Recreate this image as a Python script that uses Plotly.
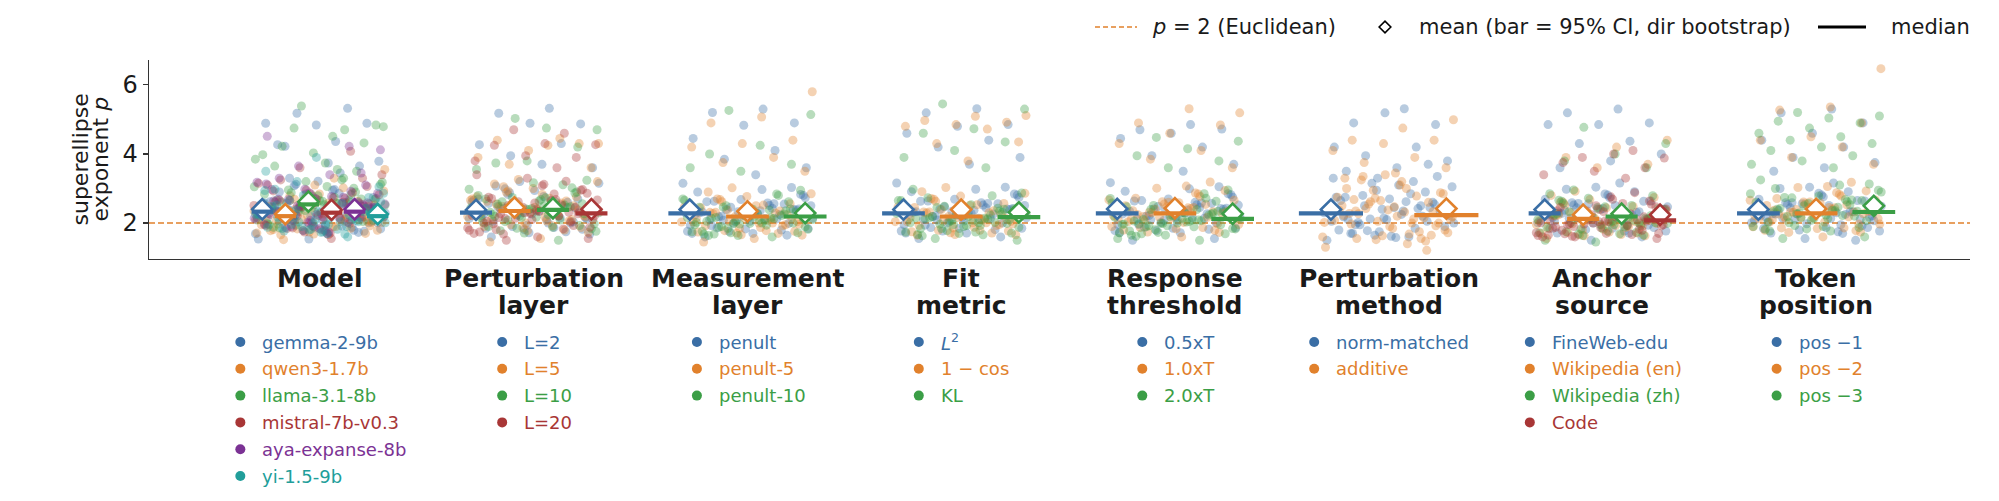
import plotly.graph_objects as go

# ---------------- layout constants (pixels of the 1999x501 canvas) ----------------
W, H = 1999, 501
PL, PR, PT, PB = 149, 1970, 60, 259
XR = [-0.8, 7.72]
YR = [0.96, 6.72]
FONT = "DejaVu Sans"

BLUE, ORANGE, GREEN, RED, PURPLE, TEAL = "#3a6ea5", "#e1812c", "#3b9e46", "#a83636", "#7b3294", "#219e9a"
PALETTE = [BLUE, ORANGE, GREEN, RED, PURPLE, TEAL]

# ---------------- data ----------------
GROUP_TITLES = [["Model"], ["Perturbation", "layer"], ["Measurement", "layer"], ["Fit", "metric"],
                ["Response", "threshold"], ["Perturbation", "method"], ["Anchor", "source"], ["Token", "position"]]

MODEL_LEVELS = ["gemma-2-9b", "qwen3-1.7b", "llama-3.1-8b", "mistral-7b-v0.3", "aya-expanse-8b", "yi-1.5-9b"]
PLAYER_LEVELS = ["L=2", "L=5", "L=10", "L=20"]
MLAYER_LEVELS = ["penult", "penult-5", "penult-10"]
METRIC_LEVELS = ["<i>L</i><sup>2</sup>", "1 − cos", "KL"]
THRESH_LEVELS = ["0.5xT", "1.0xT", "2.0xT"]
METHOD_LEVELS = ["norm-matched", "additive"]
ANCHOR_LEVELS = ["FineWeb-edu", "Wikipedia (en)", "Wikipedia (zh)", "Code"]
TOKEN_LEVELS = ["pos −1", "pos −2", "pos −3"]

MODEL_MEAN = [2.40, 2.26, 2.62, 2.38, 2.40, 2.26]
MODEL_MEDIAN = [2.33, 2.20, 2.54, 2.30, 2.33, 2.20]
MODEL_CI = [0.08, 0.07, 0.10, 0.08, 0.08, 0.07]
PLAYER_MEAN = [2.38, 2.45, 2.43, 2.40]
PLAYER_MEDIAN = [2.30, 2.35, 2.38, 2.28]
PLAYER_CI = [0.08, 0.08, 0.08, 0.08]
MLAYER_MEAN = [2.39, 2.34, 2.29]
MLAYER_MEDIAN = [2.28, 2.19, 2.19]
MLAYER_CI = [0.07, 0.07, 0.07]
METRIC_MEAN = [2.39, 2.39, 2.31]
METRIC_MEDIAN = [2.28, 2.19, 2.17]
METRIC_CI = [0.07, 0.07, 0.07]
THRESH_MEAN = [2.41, 2.43, 2.27]
THRESH_MEDIAN = [2.28, 2.28, 2.12]
THRESH_CI = [0.07, 0.07, 0.07]
METHOD_MEAN = [2.39, 2.42]
METHOD_MEDIAN = [2.28, 2.23]
METHOD_CI = [0.07, 0.07]
ANCHOR_MEAN = [2.39, 2.24, 2.27, 2.24]
ANCHOR_MEDIAN = [2.28, 2.12, 2.19, 2.08]
ANCHOR_CI = [0.07, 0.07, 0.07, 0.07]
TOKEN_MEAN = [2.39, 2.41, 2.50]
TOKEN_MEDIAN = [2.28, 2.28, 2.32]
TOKEN_CI = [0.07, 0.07, 0.08]

MODEL_POINTS = [
    [4.36, 4.22, 4.89, 4.84, 4.89, 5.32, 5.18, 3.79, 3.74, 4.27, 3.65, 1.54, 1.54, 3.45, 3.3, 2.05, 2.31, 2.62, 1.88, 2.44, 2.17, 2.95, 2.28, 1.76, 2.53, 2.39, 2.12, 3.08, 2.71, 1.95, 2.46, 2.22, 2.84, 1.69, 2.35, 2.58, 2.01, 3.21, 2.14, 2.67, 2.42, 1.83, 2.27, 2.9, 2.49],
    [3.55, 3.3, 1.52, 1.7, 3.1, 1.98, 2.15, 2.41, 1.79, 2.29, 2.06, 2.63, 2.22, 1.71, 2.37, 2.11, 1.92, 2.84, 2.48, 1.85, 2.33, 2.02, 2.56, 1.66, 2.19, 2.44, 1.95, 3.02, 2.08, 2.52, 2.26, 1.81, 2.13, 2.71, 2.35, 1.9, 2.24, 2.05, 2.6],
    [5.39, 4.79, 4.51, 4.22, 4.32, 4.03, 3.98, 4.7, 4.75, 4.84, 3.74, 3.65, 3.5, 3.2, 3.85, 3.55, 2.21, 2.48, 2.79, 1.98, 2.61, 2.34, 3.12, 2.45, 1.86, 2.7, 2.55, 2.29, 3.25, 2.88, 2.08, 2.63, 2.39, 3.01, 1.79, 2.52, 2.75, 2.16, 2.42, 2.31, 2.84, 2.59, 1.94, 2.44, 3.06, 2.66],
    [4.08, 3.6, 3.4, 1.55, 3.25, 3.3, 2.03, 2.29, 2.6, 1.86, 2.42, 2.15, 2.93, 2.26, 1.74, 2.51, 2.37, 2.1, 3.06, 2.69, 1.93, 2.44, 2.2, 2.82, 1.67, 2.33, 2.56, 1.99, 3.15, 2.12, 2.65, 2.4, 1.81, 2.25, 2.88, 2.47, 2.18, 2.73],
    [4.51, 4.22, 3.65, 4.12, 3.4, 3.3, 3.45, 2.08, 2.34, 2.57, 1.9, 2.46, 2.19, 2.97, 2.3, 1.78, 2.55, 2.41, 2.13, 3.1, 2.72, 1.96, 2.47, 2.24, 2.86, 1.7, 2.36, 2.6, 2.02, 3.18, 2.16, 2.68, 2.43, 1.84, 2.28, 2.92, 2.5, 2.21, 2.77],
    [3.9, 3.5, 1.6, 3.2, 3.05, 1.96, 2.17, 2.39, 1.8, 2.27, 2.04, 2.66, 2.2, 1.73, 2.36, 2.1, 1.9, 2.86, 2.5, 1.84, 2.31, 2.0, 2.58, 1.68, 2.18, 2.45, 1.94, 2.98, 2.07, 2.54, 2.25, 1.82, 2.12, 2.74, 2.34, 1.88, 2.23, 2.03, 2.62, 2.15],
]
MODEL_EXTRA = [
    [2.19, 2.52, 1.91, 2.36, 2.74, 2.08, 2.45, 1.79, 2.63, 2.29, 2.97, 2.13, 2.41, 1.86, 2.58, 2.24, 3.12, 2.01, 2.49, 2.33, 1.73, 2.68, 2.16, 2.86, 2.38],
    [2.07, 2.34, 1.83, 2.21, 2.58, 1.97, 2.3, 1.74, 2.47, 2.14, 2.79, 2.02, 2.27, 1.78, 2.42, 2.1, 2.93, 1.89, 2.36, 2.18, 1.68, 2.51, 2.05, 2.69, 2.25],
    [2.41, 2.72, 2.09, 2.57, 2.96, 2.28, 2.65, 1.95, 2.83, 2.47, 3.18, 2.33, 2.61, 2.04, 2.78, 2.44, 3.3, 2.2, 2.69, 2.53, 1.88, 2.9, 2.36, 3.05, 2.58],
    [2.17, 2.49, 1.89, 2.33, 2.71, 2.06, 2.43, 1.77, 2.61, 2.27, 2.95, 2.11, 2.39, 1.84, 2.56, 2.22, 3.1, 1.99, 2.47, 2.31, 1.71, 2.66, 2.14, 2.84, 2.36],
    [2.2, 2.53, 1.92, 2.37, 2.75, 2.09, 2.46, 1.8, 2.64, 2.3, 2.98, 2.14, 2.42, 1.87, 2.59, 2.25, 3.13, 2.02, 2.5, 2.34, 1.74, 2.69, 2.17, 2.87, 2.39],
    [2.06, 2.35, 1.82, 2.22, 2.57, 1.96, 2.31, 1.75, 2.48, 2.13, 2.8, 2.01, 2.28, 1.77, 2.43, 2.09, 2.94, 1.9, 2.37, 2.19, 1.69, 2.52, 2.04, 2.7, 2.26],
]
PLAYER_POINTS = [
    [5.32, 5.18, 4.87, 4.89, 4.27, 4.3, 3.95, 3.6, 3.7, 1.6, 2.04, 2.3, 2.61, 1.87, 2.43, 2.16, 2.94, 2.27, 1.75, 2.52, 2.38, 2.11, 3.07, 2.7, 1.94, 2.45, 2.21, 2.83, 1.68, 2.34, 2.57, 2.0, 3.2, 2.13, 2.66, 2.41, 1.82, 2.26],
    [4.3, 4.25, 4.4, 4.3, 4.1, 3.9, 4.45, 3.7, 3.6, 1.55, 1.45, 2.1, 2.36, 2.66, 1.92, 2.49, 2.22, 3.0, 2.33, 1.8, 2.58, 2.44, 2.17, 3.13, 2.76, 2.0, 2.51, 2.27, 2.89, 1.73, 2.4, 2.63, 2.06, 3.26, 2.19, 2.72, 2.47, 1.87, 2.32],
    [5.03, 4.7, 4.75, 3.74, 4.2, 3.8, 3.55, 1.5, 2.09, 2.35, 2.64, 1.9, 2.47, 2.2, 2.98, 2.31, 1.78, 2.56, 2.42, 2.15, 3.11, 2.74, 1.98, 2.49, 2.25, 2.87, 1.71, 2.38, 2.61, 2.04, 3.24, 2.17, 2.7, 2.45, 1.85, 2.3],
    [4.6, 4.7, 4.27, 4.3, 4.25, 3.9, 3.95, 3.8, 3.6, 1.5, 1.55, 1.6, 2.05, 2.31, 2.62, 1.86, 2.44, 2.16, 2.95, 2.28, 1.74, 2.53, 2.39, 2.11, 3.08, 2.71, 1.93, 2.46, 2.22, 2.84, 1.68, 2.35, 2.58, 2.0, 3.21, 2.14, 2.67, 2.42, 1.81, 2.27, 3.3, 3.4],
]
PLAYER_EXTRA = [
    [2.22, 2.5, 1.9, 2.35, 2.77, 2.05, 2.44, 1.81, 2.66, 2.28, 2.99, 2.12, 2.4, 1.85, 2.6, 2.23, 3.15, 2.0, 2.48, 2.32, 1.72, 2.7, 2.15, 2.88, 2.37],
    [2.26, 2.58, 1.95, 2.41, 2.83, 2.11, 2.5, 1.86, 2.7, 2.34, 3.05, 2.18, 2.46, 1.9, 2.64, 2.29, 3.2, 2.06, 2.55, 2.38, 1.78, 2.76, 2.21, 2.93, 2.43],
    [2.24, 2.55, 1.93, 2.39, 2.8, 2.09, 2.47, 1.84, 2.68, 2.31, 3.02, 2.16, 2.44, 1.88, 2.62, 2.27, 3.17, 2.03, 2.52, 2.36, 1.76, 2.73, 2.19, 2.9, 2.41],
    [2.2, 2.51, 1.88, 2.34, 2.75, 2.04, 2.43, 1.79, 2.64, 2.27, 2.97, 2.1, 2.38, 1.83, 2.58, 2.21, 3.12, 1.98, 2.46, 2.3, 1.7, 2.68, 2.13, 2.86, 2.35],
]
MLAYER_POINTS = [
    [5.3, 5.2, 4.9, 4.83, 4.45, 4.1, 3.85, 3.6, 3.4, 1.6, 1.65, 2.06, 2.29, 2.58, 1.86, 2.41, 2.15, 2.9, 2.25, 1.76, 2.5, 2.36, 2.1, 3.03, 2.68, 1.94, 2.43, 2.2, 2.8, 1.7, 2.32, 2.55, 2.0, 3.15, 2.13, 2.63, 2.38, 1.83, 2.24],
    [5.8, 5.07, 4.9, 4.4, 4.3, 4.2, 3.9, 3.75, 3.5, 1.55, 1.45, 1.95, 2.18, 2.46, 1.78, 2.31, 2.04, 2.77, 2.14, 1.7, 2.38, 2.26, 2.0, 2.9, 2.56, 1.85, 2.33, 2.1, 2.68, 1.65, 2.22, 2.44, 1.92, 3.02, 2.03, 2.52, 2.28, 1.76, 2.15],
    [5.26, 5.14, 4.25, 4.0, 3.7, 3.5, 3.6, 1.6, 1.9, 2.12, 2.4, 1.76, 2.26, 1.98, 2.7, 2.08, 1.68, 2.32, 2.2, 1.95, 2.84, 2.5, 1.82, 2.28, 2.05, 2.62, 1.64, 2.16, 2.38, 1.88, 2.95, 1.99, 2.46, 2.22, 1.72, 2.1, 2.0, 2.14],
]
MLAYER_EXTRA = [
    [2.12, 2.39, 1.84, 2.27, 2.62, 1.99, 2.33, 1.76, 2.51, 2.18, 2.83, 2.05, 2.3, 1.8, 2.46, 2.14, 2.97, 1.93, 2.4, 2.22, 1.7, 2.56, 2.08, 2.73, 2.28],
    [2.03, 2.29, 1.78, 2.17, 2.5, 1.92, 2.24, 1.71, 2.4, 2.08, 2.7, 1.97, 2.2, 1.74, 2.35, 2.05, 2.85, 1.87, 2.31, 2.13, 1.66, 2.45, 2.0, 2.62, 2.19],
    [2.0, 2.25, 1.75, 2.13, 2.46, 1.89, 2.2, 1.68, 2.36, 2.04, 2.66, 1.94, 2.16, 1.72, 2.31, 2.02, 2.8, 1.85, 2.27, 2.09, 1.64, 2.41, 1.97, 2.58, 2.15],
]
METRIC_POINTS = [
    [5.31, 5.19, 4.85, 4.8, 4.6, 4.4, 4.2, 3.9, 3.7, 1.55, 1.6, 2.07, 2.3, 2.59, 1.87, 2.42, 2.16, 2.91, 2.26, 1.77, 2.51, 2.37, 2.11, 3.04, 2.69, 1.95, 2.44, 2.21, 2.81, 1.71, 2.33, 2.56, 2.01, 3.16, 2.14, 2.64, 2.39, 1.84, 2.25],
    [5.11, 5.09, 4.97, 4.92, 4.85, 4.8, 4.72, 4.3, 4.35, 3.8, 1.65, 1.96, 2.19, 2.47, 1.79, 2.32, 2.05, 2.78, 2.15, 1.71, 2.39, 2.27, 2.01, 2.91, 2.57, 1.86, 2.34, 2.11, 2.69, 1.66, 2.23, 2.45, 1.93, 3.03, 2.04, 2.53, 2.29, 1.77, 2.16],
    [5.45, 5.3, 4.73, 4.6, 4.35, 4.1, 3.9, 3.6, 1.55, 1.5, 1.93, 2.15, 2.43, 1.78, 2.28, 2.01, 2.73, 2.1, 1.7, 2.35, 2.23, 1.97, 2.87, 2.53, 1.84, 2.31, 2.07, 2.65, 1.66, 2.19, 2.41, 1.9, 2.98, 2.02, 2.49, 2.25, 1.74, 2.12],
]
METRIC_EXTRA = [
    [2.13, 2.4, 1.85, 2.28, 2.63, 2.0, 2.34, 1.77, 2.52, 2.19, 2.84, 2.06, 2.31, 1.81, 2.47, 2.15, 2.98, 1.94, 2.41, 2.23, 1.71, 2.57, 2.09, 2.74, 2.29],
    [2.04, 2.3, 1.79, 2.18, 2.51, 1.93, 2.25, 1.72, 2.41, 2.09, 2.71, 1.98, 2.21, 1.75, 2.36, 2.06, 2.86, 1.88, 2.32, 2.14, 1.67, 2.46, 2.01, 2.63, 2.2],
    [1.99, 2.24, 1.74, 2.12, 2.45, 1.88, 2.19, 1.67, 2.35, 2.03, 2.65, 1.93, 2.15, 1.71, 2.3, 2.01, 2.79, 1.84, 2.26, 2.08, 1.63, 2.4, 1.96, 2.57, 2.14],
]
THRESH_POINTS = [
    [4.85, 4.7, 4.72, 4.6, 4.45, 4.2, 3.95, 3.7, 3.5, 1.5, 1.55, 2.08, 2.31, 2.6, 1.88, 2.43, 2.17, 2.92, 2.27, 1.78, 2.52, 2.38, 2.12, 3.05, 2.7, 1.96, 2.45, 2.22, 2.82, 1.72, 2.34, 2.57, 2.02, 3.17, 2.15, 2.65, 2.4, 1.85, 2.26],
    [5.19, 5.31, 4.9, 4.84, 4.6, 4.3, 4.1, 3.85, 3.6, 1.6, 2.1, 2.33, 2.62, 1.9, 2.45, 2.19, 2.94, 2.29, 1.8, 2.54, 2.4, 2.14, 3.07, 2.72, 1.98, 2.47, 2.24, 2.84, 1.74, 2.36, 2.59, 2.04, 3.19, 2.17, 2.67, 2.42, 1.87, 2.28],
    [4.48, 4.37, 4.15, 3.95, 3.8, 3.6, 1.55, 1.5, 1.92, 2.13, 2.4, 1.77, 2.26, 1.99, 2.71, 2.09, 1.69, 2.33, 2.21, 1.96, 2.85, 2.51, 1.83, 2.29, 2.06, 2.63, 1.65, 2.17, 2.39, 1.89, 2.96, 2.0, 2.47, 2.23, 1.73, 2.11, 2.05, 1.98],
]
THRESH_EXTRA = [
    [2.14, 2.41, 1.86, 2.29, 2.64, 2.01, 2.35, 1.78, 2.53, 2.2, 2.85, 2.07, 2.32, 1.82, 2.48, 2.16, 2.99, 1.95, 2.42, 2.24, 1.72, 2.58, 2.1, 2.75, 2.3],
    [2.15, 2.43, 1.87, 2.3, 2.66, 2.02, 2.36, 1.79, 2.55, 2.21, 2.87, 2.08, 2.33, 1.83, 2.5, 2.17, 3.01, 1.96, 2.44, 2.25, 1.73, 2.6, 2.11, 2.77, 2.31],
    [1.95, 2.19, 1.72, 2.07, 2.39, 1.84, 2.14, 1.65, 2.29, 1.99, 2.58, 1.89, 2.1, 1.69, 2.25, 1.97, 2.72, 1.81, 2.21, 2.03, 1.62, 2.34, 1.92, 2.5, 2.09],
]
METHOD_POINTS = [
    [5.31, 4.9, 4.85, 5.19, 4.2, 4.2, 3.95, 3.8, 3.6, 3.5, 3.7, 3.3, 1.5, 1.6, 2.02, 2.35, 2.7, 1.8, 2.5, 2.12, 3.05, 2.25, 1.7, 2.6, 2.4, 2.05, 3.2, 2.8, 1.9, 2.45, 2.18, 2.9, 1.65, 2.3, 2.62, 1.95, 3.35, 2.1, 2.75, 2.42, 1.78, 2.22, 3.1],
    [4.99, 4.75, 4.4, 4.4, 4.3, 4.1, 3.9, 3.75, 3.6, 3.45, 3.3, 1.21, 1.52, 1.3, 1.4, 1.55, 2.0, 2.38, 2.75, 1.75, 2.55, 2.1, 3.1, 2.28, 1.65, 2.65, 2.45, 2.0, 3.25, 2.85, 1.85, 2.5, 2.15, 2.95, 1.6, 2.32, 2.68, 1.92, 3.4, 2.08, 2.78, 2.42, 1.72, 2.2, 3.0, 2.6],
]
METHOD_EXTRA = [
    [2.1, 2.45, 1.75, 2.3, 2.85, 1.95, 2.4, 1.62, 2.65, 2.2, 3.15, 2.0, 2.35, 1.7, 2.55, 2.15, 3.3, 1.85, 2.5, 2.25, 1.58, 2.75, 2.05, 2.95, 2.38],
    [2.05, 2.42, 1.68, 2.27, 2.88, 1.9, 2.37, 1.55, 2.62, 2.18, 3.2, 1.97, 2.33, 1.63, 2.52, 2.12, 3.35, 1.8, 2.47, 2.22, 1.48, 2.72, 2.02, 3.0, 2.35],
]
ANCHOR_POINTS = [
    [5.3, 5.19, 4.9, 4.85, 4.85, 4.37, 4.3, 4.0, 3.8, 3.6, 1.6, 1.5, 2.07, 2.3, 2.59, 1.87, 2.42, 2.16, 2.91, 2.26, 1.77, 2.51, 2.37, 2.11, 3.04, 2.69, 1.95, 2.44, 2.21, 2.81, 1.71, 2.33, 2.56, 2.01, 3.16, 2.14, 2.64, 2.39, 1.84, 2.25],
    [4.4, 4.2, 3.9, 3.7, 3.6, 1.55, 1.9, 2.12, 2.38, 1.74, 2.24, 1.97, 2.68, 2.07, 1.67, 2.3, 2.19, 1.94, 2.8, 2.48, 1.81, 2.27, 2.04, 2.6, 1.63, 2.15, 2.36, 1.87, 2.92, 1.99, 2.44, 2.21, 1.71, 2.09],
    [4.77, 4.3, 4.0, 3.8, 3.6, 1.45, 1.5, 1.93, 2.15, 2.42, 1.77, 2.27, 2.0, 2.72, 2.1, 1.69, 2.33, 2.22, 1.96, 2.85, 2.51, 1.83, 2.29, 2.06, 2.63, 1.65, 2.17, 2.39, 1.89, 2.96, 2.01, 2.47, 2.23, 1.73, 2.11],
    [4.1, 3.9, 3.88, 4.0, 3.75, 3.6, 3.5, 3.4, 3.3, 1.6, 1.55, 1.7, 1.88, 2.09, 2.35, 1.72, 2.21, 1.95, 2.64, 2.04, 1.65, 2.27, 2.16, 1.92, 2.76, 2.45, 1.79, 2.24, 2.01, 2.57, 1.62, 2.12, 2.33, 1.85, 2.88, 1.97, 2.41, 2.18, 1.69, 2.06, 2.5, 2.3],
]
ANCHOR_EXTRA = [
    [2.13, 2.4, 1.85, 2.28, 2.63, 2.0, 2.34, 1.77, 2.52, 2.19, 2.84, 2.06, 2.31, 1.81, 2.47, 2.15, 2.98, 1.94, 2.41, 2.23, 1.71, 2.57, 2.09, 2.74, 2.29],
    [1.96, 2.2, 1.73, 2.08, 2.4, 1.85, 2.15, 1.66, 2.3, 2.0, 2.6, 1.9, 2.11, 1.7, 2.26, 1.98, 2.74, 1.82, 2.22, 2.04, 1.63, 2.36, 1.93, 2.52, 2.1],
    [1.99, 2.24, 1.75, 2.12, 2.45, 1.88, 2.19, 1.68, 2.35, 2.03, 2.66, 1.93, 2.15, 1.72, 2.3, 2.01, 2.79, 1.85, 2.26, 2.08, 1.64, 2.4, 1.96, 2.57, 2.14],
    [1.93, 2.16, 1.7, 2.04, 2.36, 1.82, 2.11, 1.64, 2.26, 1.97, 2.55, 1.87, 2.07, 1.67, 2.22, 1.95, 2.69, 1.79, 2.18, 2.0, 1.6, 2.31, 1.9, 2.47, 2.06],
]
TOKEN_POINTS = [
    [5.3, 5.19, 4.9, 4.6, 4.4, 4.2, 3.9, 3.75, 3.6, 3.5, 1.5, 1.55, 2.07, 2.3, 2.59, 1.87, 2.42, 2.16, 2.91, 2.26, 1.77, 2.51, 2.37, 2.11, 3.04, 2.69, 1.95, 2.44, 2.21, 2.81, 1.71, 2.33, 2.56, 2.01, 3.16, 2.14, 2.64, 2.39, 1.84, 2.25],
    [6.47, 5.36, 5.27, 4.9, 4.5, 4.4, 4.2, 3.9, 3.7, 1.6, 2.09, 2.32, 2.61, 1.89, 2.44, 2.18, 2.93, 2.28, 1.79, 2.53, 2.39, 2.13, 3.06, 2.71, 1.97, 2.46, 2.23, 2.83, 1.73, 2.35, 2.58, 2.03, 3.18, 2.16, 2.66, 2.41, 1.86, 2.27],
    [5.2, 5.1, 5.04, 4.95, 4.9, 4.75, 4.6, 4.5, 4.4, 4.3, 4.2, 4.1, 3.95, 3.8, 3.7, 3.6, 1.55, 1.6, 2.14, 2.38, 2.68, 1.93, 2.5, 2.23, 3.0, 2.34, 1.83, 2.6, 2.46, 2.19, 3.13, 2.78, 2.02, 2.53, 2.29, 2.9, 1.77, 2.42, 2.65, 2.08, 3.25, 2.22, 2.73, 2.48, 1.9, 2.33],
]
TOKEN_EXTRA = [
    [2.11, 2.43, 1.87, 2.26, 2.65, 1.98, 2.36, 1.75, 2.54, 2.17, 2.86, 2.04, 2.33, 1.8, 2.49, 2.13, 3.0, 1.92, 2.39, 2.21, 1.7, 2.59, 2.07, 2.76, 2.27],
    [2.15, 2.44, 1.86, 2.31, 2.67, 2.03, 2.37, 1.78, 2.56, 2.22, 2.88, 2.09, 2.34, 1.84, 2.51, 2.18, 3.03, 1.97, 2.45, 2.26, 1.74, 2.61, 2.12, 2.78, 2.32],
    [2.2, 2.5, 1.9, 2.36, 2.74, 2.07, 2.43, 1.82, 2.62, 2.27, 2.95, 2.13, 2.4, 1.87, 2.57, 2.23, 3.1, 2.01, 2.5, 2.31, 1.77, 2.67, 2.16, 2.85, 2.37],
]

GROUPS = [
    (MODEL_LEVELS, MODEL_MEAN, MODEL_MEDIAN, MODEL_CI, MODEL_POINTS, MODEL_EXTRA),
    (PLAYER_LEVELS, PLAYER_MEAN, PLAYER_MEDIAN, PLAYER_CI, PLAYER_POINTS, PLAYER_EXTRA),
    (MLAYER_LEVELS, MLAYER_MEAN, MLAYER_MEDIAN, MLAYER_CI, MLAYER_POINTS, MLAYER_EXTRA),
    (METRIC_LEVELS, METRIC_MEAN, METRIC_MEDIAN, METRIC_CI, METRIC_POINTS, METRIC_EXTRA),
    (THRESH_LEVELS, THRESH_MEAN, THRESH_MEDIAN, THRESH_CI, THRESH_POINTS, THRESH_EXTRA),
    (METHOD_LEVELS, METHOD_MEAN, METHOD_MEDIAN, METHOD_CI, METHOD_POINTS, METHOD_EXTRA),
    (ANCHOR_LEVELS, ANCHOR_MEAN, ANCHOR_MEDIAN, ANCHOR_CI, ANCHOR_POINTS, ANCHOR_EXTRA),
    (TOKEN_LEVELS, TOKEN_MEAN, TOKEN_MEDIAN, TOKEN_CI, TOKEN_POINTS, TOKEN_EXTRA),
]

# ---------------- style ----------------
SPREAD = 0.27      # level offsets within a group
JIT = 0.31         # half-width of point jitter band
PHI = 0.6180339887

CHAR_W = {c: 0.62 for c in "abcdeghnopqu"}
CHAR_W.update({"f": 0.35, "i": 0.28, "j": 0.28, "l": 0.28, "m": 0.97, "r": 0.41, "s": 0.52, "t": 0.39,
               "k": 0.58, "v": 0.59, "w": 0.82, "x": 0.59, "y": 0.59, "z": 0.53, "-": 0.36, ".": 0.32,
               "=": 0.84, " ": 0.32, "(": 0.39, ")": 0.39, "−": 0.84, "L": 0.56, "F": 0.58, "W": 0.99,
               "C": 0.70, "K": 0.66, "T": 0.61, "E": 0.63})


def text_w(s, size):
    s = s.replace("<i>", "").replace("</i>", "").replace("<sup>", "").replace("</sup>", "")
    return sum(CHAR_W.get(c, 0.636) for c in s) * size


def x_to_px(xv):
    return PL + (xv - XR[0]) / (XR[1] - XR[0]) * (PR - PL)


def offsets(n):
    return [-SPREAD + 2 * SPREAD * i / (n - 1) for i in range(n)]


fig = go.Figure()

# jittered points
for g, (levels, means, meds, cis, pts, extra) in enumerate(GROUPS):
    for i in range(len(levels)):
        vals = pts[i] + extra[i]
        xs = [g + JIT * (2 * (((j + 1) * PHI + i * 0.371) % 1.0) - 1) for j in range(len(vals))]
        fig.add_trace(go.Scatter(x=xs, y=vals, mode="markers", hoverinfo="skip", showlegend=False,
                                 marker=dict(size=9, color=PALETTE[i], opacity=0.36, line=dict(width=0))))

# means with CI, then medians on top
for g, (levels, means, meds, cis, pts, extra) in enumerate(GROUPS):
    n = len(levels)
    offs = offsets(n)
    for i in range(n):
        fig.add_trace(go.Scatter(x=[g + offs[i]], y=[means[i]], mode="markers", hoverinfo="skip", showlegend=False,
                                 error_y=dict(type="data", array=[cis[i]], color=PALETTE[i], thickness=2, width=0),
                                 marker=dict(symbol="diamond", size=15.5, color="white",
                                             line=dict(color=PALETTE[i], width=2.6))))
for g, (levels, means, meds, cis, pts, extra) in enumerate(GROUPS):
    n = len(levels)
    offs = offsets(n)
    hw = 0.3 / n
    for i in range(n):
        fig.add_trace(go.Scatter(x=[g + offs[i] - hw, g + offs[i] + hw], y=[meds[i], meds[i]], mode="lines",
                                 hoverinfo="skip", showlegend=False,
                                 line=dict(color=PALETTE[i], width=4.2)))

annotations = []
# group titles
for g, lines in enumerate(GROUP_TITLES):
    for k, ln in enumerate(lines):
        annotations.append(dict(x=g, y=278 + 27.5 * k, xref="x", yref="y2", text="<b>%s</b>" % ln,
                                showarrow=False, xanchor="center", yanchor="middle",
                                font=dict(family=FONT, size=25, color="#1a1a1a")))

# per-group legends
ROW0, ROWDY, DOT_OFF, TXT_OFF, LEG_SIZE = 342, 26.8, 5, 25, 18
for g, (levels, means, meds, cis, pts, extra) in enumerate(GROUPS):
    cx = x_to_px(g)
    maxw = max(text_w(s, LEG_SIZE) for s in levels)
    left = cx - (TXT_OFF + maxw) / 2
    fig.add_trace(go.Scatter(x=[left + DOT_OFF] * len(levels), y=[ROW0 + ROWDY * i for i in range(len(levels))],
                             xaxis="x2", yaxis="y2", mode="markers", hoverinfo="skip", showlegend=False,
                             marker=dict(size=10, color=PALETTE[:len(levels)], line=dict(width=0))))
    for i, s in enumerate(levels):
        annotations.append(dict(x=left + TXT_OFF, y=ROW0 + ROWDY * i, xref="x2", yref="y2", text=s,
                                showarrow=False, xanchor="left", yanchor="middle",
                                font=dict(family=FONT, size=LEG_SIZE, color=PALETTE[i])))

# top legend
TOP_Y, TOP_SIZE = 27, 21
fig.add_trace(go.Scatter(x=[1095, 1137], y=[TOP_Y, TOP_Y], xaxis="x2", yaxis="y2", mode="lines", hoverinfo="skip",
                         showlegend=False, line=dict(color=ORANGE, width=1.6, dash="5px,3px")))
fig.add_trace(go.Scatter(x=[1385], y=[TOP_Y], xaxis="x2", yaxis="y2", mode="markers", hoverinfo="skip",
                         showlegend=False, marker=dict(symbol="diamond", size=9, color="white",
                                                       line=dict(color="black", width=1.6))))
fig.add_trace(go.Scatter(x=[1818, 1866], y=[TOP_Y, TOP_Y], xaxis="x2", yaxis="y2", mode="lines", hoverinfo="skip",
                         showlegend=False, line=dict(color="black", width=3)))
for xp, s in [(1150, "<i>p</i> = 2 (Euclidean)"), (1417, "mean (bar = 95% CI, dir bootstrap)"), (1889, "median")]:
    annotations.append(dict(x=xp, y=TOP_Y, xref="x2", yref="y2", text=s, showarrow=False, xanchor="left",
                            yanchor="middle", font=dict(family=FONT, size=TOP_SIZE, color="#1a1a1a")))

# y-axis title (two rotated lines)
for xp, s in [(80, "superellipse"), (100, "exponent <i>p</i>")]:
    annotations.append(dict(x=xp, y=(PT + PB) / 2, xref="x2", yref="y2", text=s, showarrow=False, textangle=-90,
                            xanchor="center", yanchor="middle", font=dict(family=FONT, size=22, color="#1a1a1a")))

fig.update_layout(
    width=W, height=H, margin=dict(l=0, r=0, t=0, b=0, pad=0),
    paper_bgcolor="white", plot_bgcolor="rgba(0,0,0,0)", showlegend=False,
    font=dict(family=FONT, color="#1a1a1a"),
    xaxis=dict(domain=[PL / W, PR / W], range=XR, showgrid=False, zeroline=False, showticklabels=False,
               ticks="", showline=True, linecolor="#333333", linewidth=1.3, fixedrange=True),
    yaxis=dict(domain=[1 - PB / H, 1 - PT / H], range=YR, showgrid=False, zeroline=False,
               tickvals=[2, 4, 6], ticktext=["2", "4", "6"], ticks="outside", ticklen=5, tickwidth=1.2,
               tickcolor="#333333", showline=True, linecolor="#333333", linewidth=1.3,
               tickfont=dict(family=FONT, size=24, color="#1a1a1a"), fixedrange=True),
    xaxis2=dict(domain=[0, 1], range=[0, W], visible=False, anchor="y2", fixedrange=True),
    yaxis2=dict(domain=[0, 1], range=[H, 0], visible=False, anchor="x2", fixedrange=True),
    shapes=[dict(type="line", xref="x domain", yref="y", x0=0, x1=1, y0=2, y1=2, layer="below",
                 line=dict(color=ORANGE, width=1.5, dash="6px,3px"))],
    annotations=annotations,
)

fig.write_html("out.html", config={"displayModeBar": False, "staticPlot": True},
               post_script="document.body.style.margin='0';document.body.style.overflow='hidden';")
